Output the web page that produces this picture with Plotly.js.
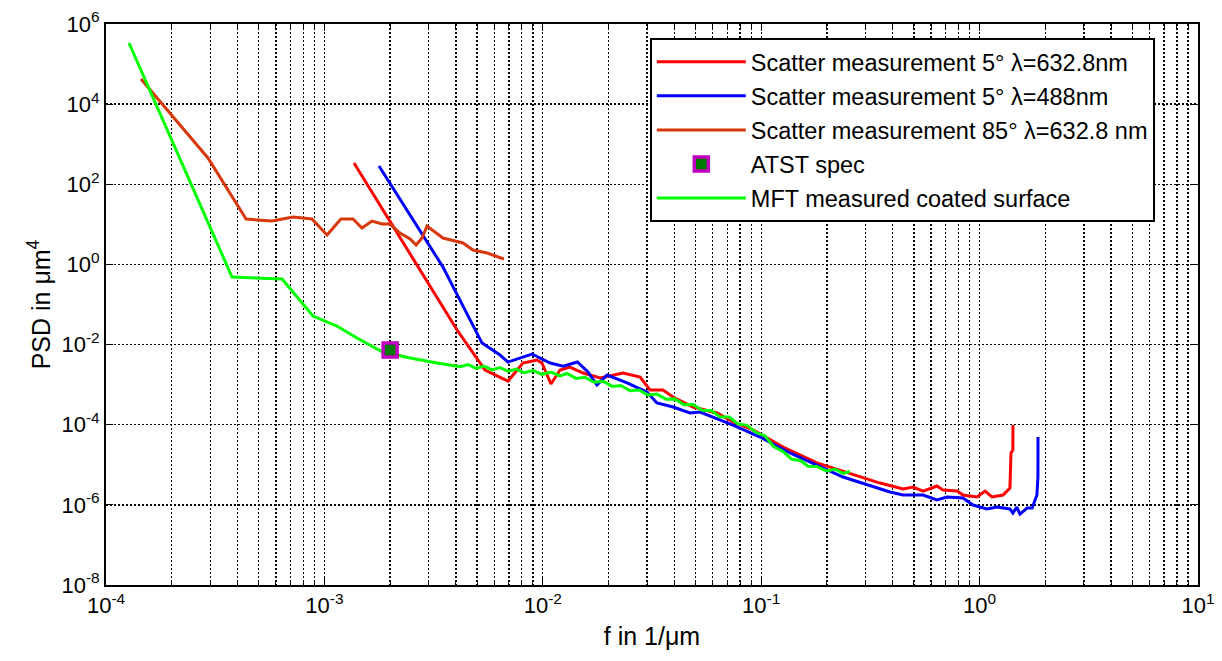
<!DOCTYPE html>
<html>
<head>
<meta charset="utf-8">
<script src="https://cdn.plot.ly/plotly-3.0.1.min.js"></script>
<style>html,body{margin:0;padding:0;background:#fff;}#chart{width:1222px;height:661px;}</style>
</head>
<body>
<div id="chart"></div>
<script>
// ---- data ----
const red632_f = [1.366e-3, 4.05e-3, 5.44e-3, 6.93e-3, 8.11e-3, 9.40e-3, 9.91e-3, 0.0109, 0.0120, 0.0133, 0.0153, 0.0183, 0.0233, 0.0279, 0.0310, 0.0355, 0.0395, 0.0487, 0.0628, 0.0743, 0.0917, 0.126, 0.180, 0.255, 0.350, 0.446, 0.496, 0.551, 0.638, 0.679, 0.789, 0.839, 0.973, 1.059, 1.14, 1.28, 1.377, 1.392, 1.42, 1.421];
const red632_v = [340, 0.0231, 2.32e-3, 1.23e-3, 3.47e-3, 4.12e-3, 3.47e-3, 1.04e-3, 2.32e-3, 2.75e-3, 1.95e-3, 1.46e-3, 1.95e-3, 1.55e-3, 7.3e-4, 7.3e-4, 4.91e-4, 2.77e-4, 1.96e-4, 1.17e-4, 7.4e-5, 2.77e-5, 1.11e-5, 6.2e-6, 3.5e-6, 2.48e-6, 2.79e-6, 2.21e-6, 2.95e-6, 2.34e-6, 2.21e-6, 1.76e-6, 1.57e-6, 2.21e-6, 1.57e-6, 1.76e-6, 2.63e-6, 1.97e-5, 2.34e-5, 9.8e-5];

const blue488_f = [1.778e-3, 3.49e-3, 5.27e-3, 6.37e-3, 6.93e-3, 8.93e-3, 0.0108, 0.0124, 0.0144, 0.0161, 0.0177, 0.0197, 0.0243, 0.0300, 0.0333, 0.0395, 0.0472, 0.0525, 0.0743, 0.0989, 0.1355, 0.186, 0.237, 0.389, 0.446, 0.551, 0.638, 0.709, 0.839, 0.933, 1.08, 1.20, 1.377, 1.42, 1.48, 1.53, 1.65, 1.74, 1.83, 1.85, 1.851];
const blue488_v = [286, 0.863, 0.0109, 5.48e-3, 3.67e-3, 5.81e-3, 3.47e-3, 2.9e-3, 3.67e-3, 2.07e-3, 9.8e-4, 1.74e-3, 1.10e-3, 6.55e-4, 3.48e-4, 2.77e-4, 1.96e-4, 2.07e-4, 9.8e-5, 4.93e-5, 1.97e-5, 8.8e-6, 4.95e-6, 2.09e-6, 1.76e-6, 1.76e-6, 1.32e-6, 1.57e-6, 1.48e-6, 9.9e-7, 7.9e-7, 8.8e-7, 7.9e-7, 6.25e-7, 8.8e-7, 5.9e-7, 8.3e-7, 8.3e-7, 1.76e-6, 4.95e-6, 4.93e-5];

const red85_f = [1.446e-4, 2.93e-4, 4.38e-4, 5.75e-4, 7.18e-4, 8.77e-4, 1.028e-3, 1.19e-3, 1.352e-3, 1.486e-3, 1.652e-3, 1.836e-3, 1.996e-3, 2.22e-3, 2.47e-3, 2.63e-3, 2.80e-3, 2.95e-3, 3.49e-3, 4.31e-3, 4.79e-3, 5.56e-3, 6.64e-3];
const red85_v = [4.24e4, 453, 13.6, 12.1, 15.2, 13.6, 5.42, 13.6, 13.6, 8.1, 12.1, 10.2, 10.2, 6.08, 4.31, 3.05, 4.56, 9.1, 4.56, 3.43, 2.29, 1.93, 1.365];

const atst_f = [2.0e-3];
const atst_v = [7.3e-3];

const mft_f = [1.274e-4, 3.776e-4, 6.4e-4, 8.87e-4, 1.14e-3, 1.41e-3, 1.85e-3, 2.47e-3, 3.28e-3, 4.18e-3, 4.55e-3, 4.94e-3, 5.38e-3, 5.85e-3, 6.37e-3, 6.93e-3, 7.54e-3, 8.20e-3, 9.02e-3, 9.92e-3, 0.0109, 0.0120, 0.0129, 0.0142, 0.0156, 0.0172, 0.0189, 0.0208, 0.0228, 0.0251, 0.0276, 0.0303, 0.0333, 0.0367, 0.0403, 0.0443, 0.0487, 0.0536, 0.0589, 0.0648, 0.0712, 0.0783, 0.0861, 0.0947, 0.104, 0.114, 0.126, 0.138, 0.151, 0.164, 0.180, 0.198, 0.218, 0.237, 0.255];
const mft_v = [3.36e5, 0.485, 0.433, 0.0516, 0.029, 0.0146, 6.5e-3, 4.6e-3, 3.47e-3, 2.79e-3, 3.18e-3, 2.55e-3, 2.92e-3, 2.34e-3, 2.67e-3, 2.16e-3, 2.45e-3, 1.99e-3, 2.25e-3, 1.81e-3, 2.06e-3, 1.65e-3, 1.90e-3, 1.43e-3, 1.52e-3, 1.15e-3, 1.22e-3, 9.04e-4, 9.46e-4, 7.02e-4, 7.38e-4, 5.48e-4, 5.81e-4, 4.31e-4, 4.41e-4, 3.16e-4, 3.21e-4, 2.30e-4, 2.26e-4, 1.57e-4, 1.56e-4, 1.05e-4, 9.66e-5, 6.38e-5, 5.28e-5, 2.86e-5, 2.14e-5, 1.37e-5, 1.28e-5, 9.16e-6, 9.06e-6, 7.03e-6, 7.76e-6, 6.10e-6, 6.79e-6];

const seriesNames = ["Scatter measurement 5° λ=632.8nm", "Scatter measurement 5° λ=488nm", "Scatter measurement 85° λ=632.8 nm", "ATST spec", "MFT measured coated surface"];

// ---- axis ticks ----
const xTickVals = [1e-4, 1e-3, 1e-2, 1e-1, 1e0, 1e1];
const xTickText = ["10<sup>-4</sup>", "10<sup>-3</sup>", "10<sup>-2</sup>", "10<sup>-1</sup>", "10<sup>0</sup>", "10<sup>1</sup>"];
const yTickVals = [1e-8, 1e-6, 1e-4, 1e-2, 1e0, 1e2, 1e4, 1e6];
const yTickText = ["10<sup>-8</sup>", "10<sup>-6</sup>", "10<sup>-4</sup>", "10<sup>-2</sup>", "10<sup>0</sup>", "10<sup>2</sup>", "10<sup>4</sup>", "10<sup>6</sup>"];
const minorDigits = [2, 3, 4, 5, 6, 7, 8, 9];
const xMinorVals = [];
[1e-4, 1e-3, 1e-2, 1e-1, 1e0].forEach(d => minorDigits.forEach(m => xMinorVals.push(m * d)));

const FONT = "Liberation Sans, Arial, Helvetica, sans-serif";
const LW = 3;

const traces = [
  {x: red632_f, y: red632_v, name: seriesNames[0], mode: "lines", line: {color: "#ff0000", width: LW}, legendrank: 1, legendgroup: "g1"},
  {x: blue488_f, y: blue488_v, name: seriesNames[1], mode: "lines", line: {color: "#0000ff", width: LW}, legendrank: 2, legendgroup: "g2"},
  {x: red85_f, y: red85_v, name: seriesNames[2], mode: "lines", line: {color: "#d8380c", width: LW}, legendrank: 3, legendgroup: "g3"},
  {x: mft_f, y: mft_v, name: seriesNames[4], mode: "lines", line: {color: "#00ff00", width: LW}, legendrank: 5, legendgroup: "g5"},
  {x: atst_f, y: atst_v, name: seriesNames[3], mode: "markers", marker: {symbol: "square", size: 14, color: "#007a00", line: {color: "#c000c0", width: 3.5}}, legendrank: 4, legendgroup: "g4"}
];

const gridStyle = {showgrid: true, gridcolor: "#000000", gridwidth: 1.4, griddash: "2px,2px"};

const layout = {
  width: 1222, height: 661,
  margin: {l: 106, r: 24, t: 24, b: 76},
  paper_bgcolor: "#ffffff", plot_bgcolor: "#ffffff",
  font: {family: FONT, color: "#000000", size: 22},
  showlegend: true,
  legend: {
    x: 0.498, y: 0.975, xanchor: "left", yanchor: "top",
    bgcolor: "#ffffff", bordercolor: "#000000", borderwidth: 2,
    font: {family: FONT, size: 23.5, color: "#000000"},
    tracegroupgap: 0.5, itemwidth: 89, traceorder: "grouped"
  },
  xaxis: Object.assign({
    type: "log", range: [-4, 1],
    tickmode: "array", tickvals: xTickVals, ticktext: xTickText,
    ticks: "inside", ticklen: 7, tickwidth: 1, tickcolor: "#000000",
    showline: true, linecolor: "#000000", linewidth: 2, mirror: "allticks",
    zeroline: false,
    tickfont: {family: FONT, size: 22, color: "#000000"},
    title: {text: "f in 1/μm", font: {family: FONT, size: 25, color: "#000000"}, standoff: 10},
    minor: {tickmode: "array", tickvals: xMinorVals, ticks: "inside", ticklen: 4, tickcolor: "#000000", showgrid: true, gridcolor: "#000000", gridwidth: 1.4, griddash: "2px,2px"}
  }, gridStyle),
  yaxis: Object.assign({
    type: "log", range: [-8, 6],
    tickmode: "array", tickvals: yTickVals, ticktext: yTickText,
    ticks: "inside", ticklen: 7, tickwidth: 1, tickcolor: "#000000",
    showline: true, linecolor: "#000000", linewidth: 2, mirror: "allticks",
    zeroline: false,
    tickfont: {family: FONT, size: 22, color: "#000000"},
    title: {text: "PSD in μm<sup>4</sup>", font: {family: FONT, size: 25, color: "#000000"}, standoff: 4}
  }, gridStyle)
};

Plotly.newPlot("chart", traces, layout, {displayModeBar: false, staticPlot: true});
</script>
</body>
</html>
